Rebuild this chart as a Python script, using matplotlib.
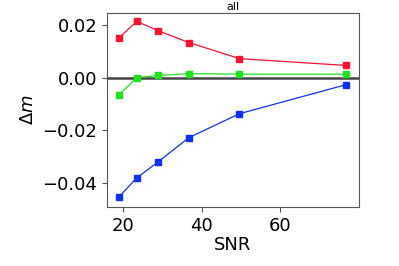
import matplotlib
matplotlib.use('Agg')
import matplotlib.pyplot as plt

snr = [19.0, 23.5, 28.9, 36.7, 49.6, 76.7]
dm_red = [0.0152, 0.0213, 0.0178, 0.0133, 0.0072, 0.0046]
dm_green = [-0.0065, 0.0, 0.0008, 0.0015, 0.0013, 0.0013]
dm_blue = [-0.0452, -0.0380, -0.0320, -0.0228, -0.0137, -0.0027]


def main():
    fig = plt.figure(figsize=(3.99, 2.66), dpi=100)
    ax = fig.add_axes([107 / 399, 59 / 266, 252 / 399, 194 / 266])

    ax.axhline(0, color='#444444', lw=1.8, zorder=1)
    ax.plot(snr, dm_red, marker='s', color='#ff1030', ms=4.5, lw=0.9)
    ax.plot(snr, dm_green, marker='s', color='#20e020', ms=4.5, lw=0.9)
    ax.plot(snr, dm_blue, marker='s', color='#1030f0', ms=4.5, lw=0.9)

    ax.set_xlim(15.9, 80)
    ax.set_ylim(-0.0491, 0.0245)
    ax.set_xticks([20, 40, 60])
    ax.set_yticks([-0.04, -0.02, 0.0, 0.02])
    ax.set_yticklabels(['\u22120.04', '\u22120.02', '0.00', '0.02'])
    ax.tick_params(labelsize=13, color='#555555')
    for s in ax.spines.values():
        s.set_color('#555555')

    ax.set_title('all', fontsize=8, pad=2)
    ax.set_xlabel('SNR', fontsize=13, labelpad=1)
    ax.set_ylabel(r'$\Delta m$', fontsize=13)

    plt.savefig('out.png')


if __name__ == "__main__":
    main()
